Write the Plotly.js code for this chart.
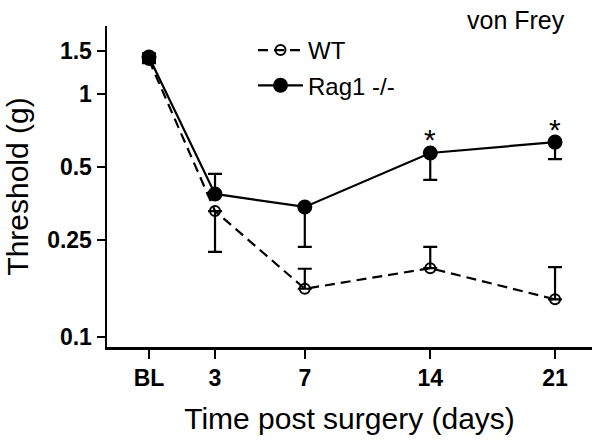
<!DOCTYPE html>
<html>
<head>
<meta charset="utf-8">
<script src="https://cdn.plot.ly/plotly-3.0.1.min.js"></script>
<style>html,body{margin:0;padding:0;background:#fff;}#chart{width:600px;height:443px;}</style>
</head>
<body>
<div id="chart"></div>
<script>
// Categories (time points) and their horizontal slots on the axis
const timeLabels = ["BL", "3", "7", "14", "21"];
const timeSlots = [1, 2, 3.36, 5.26, 7.15];

// Threshold (g)
const wtMean = [1.38, 0.330, 0.158, 0.192, 0.143];
const wtErrUp = [0.04, 0, 0.033, 0.043, 0.051];
const wtErrDown = [0.04, 0.106, 0, 0, 0];

const ragMean = [1.42, 0.388, 0.343, 0.572, 0.634];
const ragErrUp = [0.05, 0.081, 0, 0, 0];
const ragErrDown = [0.05, 0, 0.108, 0.129, 0.094];

const yTickVals = [0.1, 0.25, 0.5, 1, 1.5];
const yTickText = ["0.1", "0.25", "0.5", "1", "1.5"];

const sigLabel = "*";
const sigIndex = [3, 4];

const FONT = "Liberation Sans, Arial, sans-serif";

const wt = {
  name: "WT", legendgroup: "wt",
  x: timeSlots, y: wtMean,
  type: "scatter", mode: "lines+markers",
  line: {color: "#000", width: 2.2, dash: "10px,6px"},
  marker: {symbol: "circle-open", size: 10, color: "#000", line: {width: 2, color: "#000"}},
  error_y: {type: "data", symmetric: false, array: wtErrUp, arrayminus: wtErrDown, color: "#000", thickness: 2.2, width: 7},
  cliponaxis: false
};
const rag = {
  name: "Rag1 -/-", legendgroup: "rag",
  x: timeSlots, y: ragMean,
  type: "scatter", mode: "lines+markers",
  line: {color: "#000", width: 2.2},
  marker: {symbol: "circle", size: 15, color: "#000"},
  error_y: {type: "data", symmetric: false, array: ragErrUp, arrayminus: ragErrDown, color: "#000", thickness: 2.2, width: 7},
  cliponaxis: false
};

const annotations = sigIndex.map(i => ({
  x: timeSlots[i], y: Math.log10(ragMean[i]), xref: "x", yref: "y",
  text: sigLabel, showarrow: false, yshift: 13,
  font: {family: FONT, size: 30, color: "#000"}
}));
annotations.push({
  xref: "paper", yref: "paper", x: (567 - 107) / 485, y: (347 - 20) / 321, xanchor: "right", yanchor: "middle",
  text: "von Frey", showarrow: false,
  font: {family: FONT, size: 25, color: "#000"}
});

const layout = {
  width: 600, height: 443,
  margin: {l: 107, r: 8, t: 26, b: 96},
  paper_bgcolor: "#fff", plot_bgcolor: "#fff",
  showlegend: true,
  legend: {x: (253 - 107) / 485, y: (347 - 28) / 321, xanchor: "left", yanchor: "top", bgcolor: "rgba(0,0,0,0)",
           font: {family: FONT, size: 24, color: "#000"}, tracegroupgap: 1, itemwidth: 45},
  xaxis: {
    type: "linear", range: [0.364, 7.71],
    tickmode: "array", tickvals: timeSlots, ticktext: timeLabels.map(t => "<b>" + t + "</b>"),
    ticks: "outside", ticklen: 9, tickwidth: 2, tickcolor: "#000",
    showline: true, linecolor: "#000", linewidth: 2.5, showgrid: false, zeroline: false,
    tickfont: {family: FONT, size: 23, color: "#000"},
    title: {text: "Time post surgery (days)", font: {family: FONT, size: 30, color: "#000"}, standoff: 18}
  },
  yaxis: {
    type: "log", range: [Math.log10(0.091), Math.log10(1.905)],
    tickmode: "array", tickvals: yTickVals, ticktext: yTickText.map(t => "<b>" + t + "</b>"),
    ticks: "outside", ticklen: 8, tickwidth: 2, tickcolor: "#000",
    showline: true, linecolor: "#000", linewidth: 2.5, showgrid: false, zeroline: false,
    tickfont: {family: FONT, size: 23, color: "#000"},
    title: {text: "Threshold (g)", font: {family: FONT, size: 30, color: "#000"}, standoff: 10}
  },
  annotations: annotations
};

Plotly.newPlot("chart", [wt, rag], layout, {displayModeBar: false, staticPlot: true});
</script>
</body>
</html>
